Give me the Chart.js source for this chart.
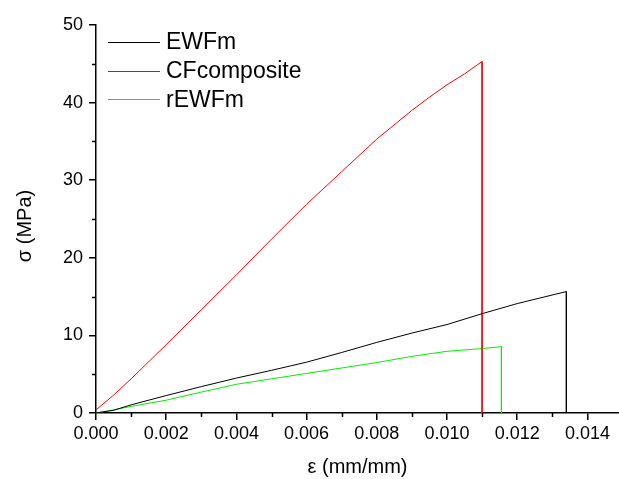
<!DOCTYPE html>
<html>
<head>
<meta charset="utf-8">
<script src="https://cdn.jsdelivr.net/npm/chart.js@4"></script>
<style>
  html, body { margin: 0; padding: 0; background: #fff; }
  #wrap { width: 619px; height: 479px; }
</style>
</head>
<body>
<div id="wrap"><canvas id="stressChart" width="619" height="479"></canvas></div>
<script>
// --- data ---
const ewfmStrain = [0, 0.0005, 0.001, 0.002, 0.003, 0.004, 0.005, 0.006, 0.007, 0.008, 0.009, 0.010, 0.011, 0.012, 0.0134, 0.0134];
const ewfmStress = [0, 0.35, 1.05, 2.25, 3.4, 4.5, 5.5, 6.55, 7.8, 9.1, 10.3, 11.4, 12.8, 14.1, 15.65, 0];

const cfStrain = [0, 0.0005, 0.001, 0.002, 0.003, 0.004, 0.005, 0.006, 0.007, 0.008, 0.009, 0.0095, 0.010, 0.0105, 0.011, 0.011];
const cfStress = [0.4, 2.3, 4.4, 8.8, 13.3, 17.8, 22.4, 26.9, 31.1, 35.3, 39.0, 40.7, 42.3, 43.7, 45.3, 0];

const rewfmStrain = [0, 0.0005, 0.001, 0.002, 0.003, 0.004, 0.005, 0.006, 0.007, 0.008, 0.009, 0.010, 0.011, 0.01155, 0.01155];
const rewfmStress = [0, 0.4, 0.85, 1.65, 2.7, 3.7, 4.4, 5.1, 5.8, 6.5, 7.3, 7.95, 8.3, 8.55, 0];

const seriesNames = ['EWFm', 'CFcomposite', 'rEWFm'];
const xTicks = [0, 0.002, 0.004, 0.006, 0.008, 0.010, 0.012, 0.014];
const xMinor = [0.001, 0.003, 0.005, 0.007, 0.009, 0.011, 0.013];
const yTicks = [0, 10, 20, 30, 40, 50];
const yMinor = [5, 15, 25, 35, 45];

const FONT = '"Liberation Sans", Arial, sans-serif';

function pts(xs, ys) {
    return xs.map((x, i) => ({ x: x, y: ys[i] }));
}

// minor ticks, y title and the legend, drawn by hand
const extras = {
    id: 'extras',
    afterDraw(chart) {
        const c = chart.ctx;
        const xs = chart.scales.x, ys = chart.scales.y;
        const area = chart.chartArea;
        c.save();
        c.strokeStyle = '#000';
        c.lineWidth = 1.5;
        c.beginPath();
        xMinor.forEach(v => {
            const px = Math.round(xs.getPixelForValue(v)) + 0.5;
            c.moveTo(px, area.bottom);
            c.lineTo(px, area.bottom + 4);
        });
        yMinor.forEach(v => {
            const py = Math.round(ys.getPixelForValue(v)) + 0.5;
            c.moveTo(area.left, py);
            c.lineTo(area.left - 4, py);
        });
        c.stroke();

        // y axis title
        c.save();
        c.translate(25, 226);
        c.rotate(-Math.PI / 2);
        c.font = '20px ' + FONT;
        c.textAlign = 'center';
        c.textBaseline = 'middle';
        c.fillStyle = '#000';
        c.fillText('σ (MPa)', 0, 0);
        c.restore();

        // legend
        c.font = '23px ' + FONT;
        c.textBaseline = 'middle';
        c.fillStyle = '#000';
        chart.data.datasets.forEach((ds, i) => {
            const y = 42 + i * 28.6;
            c.strokeStyle = ds.borderColor;
            c.lineWidth = 1;
            c.beginPath();
            c.moveTo(108, Math.round(y) + 0.5);
            c.lineTo(160, Math.round(y) + 0.5);
            c.stroke();
            c.fillText(ds.label, 166, y + 1);
        });
        c.restore();
    }
};

const chart = new Chart(document.getElementById('stressChart'), {
    type: 'scatter',
    data: {
        datasets: [
            { label: seriesNames[0], data: pts(ewfmStrain, ewfmStress), borderColor: '#000000' },
            { label: seriesNames[1], data: pts(cfStrain, cfStress), borderColor: '#ff0000' },
            { label: seriesNames[2], data: pts(rewfmStrain, rewfmStress), borderColor: '#00ee00' }
        ]
    },
    options: {
        responsive: false,
        animation: false,
        showLine: true,
        elements: {
            point: { radius: 0, hoverRadius: 0 },
            line: { borderWidth: 1, tension: 0 }
        },
        layout: { padding: { top: 25, right: 0, left: 0, bottom: 0 } },
        scales: {
            x: {
                type: 'linear',
                min: 0,
                max: 0.0149,
                afterBuildTicks: s => { s.ticks = xTicks.map(v => ({ value: v })); },
                afterFit: s => { s.height = 66; },
                ticks: {
                    color: '#000',
                    font: { family: FONT, size: 18 },
                    padding: 3,
                    maxRotation: 0,
                    callback: v => v.toFixed(3)
                },
                grid: { drawOnChartArea: false, drawTicks: true, tickLength: 7, color: '#000', lineWidth: 1.5 },
                border: { color: '#000', width: 1.5 },
                title: {
                    display: true,
                    text: 'ε (mm/mm)',
                    color: '#000',
                    font: { family: FONT, size: 20 },
                    padding: { top: 10, bottom: 0 }
                }
            },
            y: {
                type: 'linear',
                min: 0,
                max: 50,
                afterBuildTicks: s => { s.ticks = yTicks.map(v => ({ value: v })); },
                afterFit: s => { s.width = 96; },
                ticks: {
                    color: '#000',
                    font: { family: FONT, size: 18 },
                    padding: 6
                },
                grid: { drawOnChartArea: false, drawTicks: true, tickLength: 7, color: '#000', lineWidth: 1.5 },
                border: { color: '#000', width: 1.5 }
            }
        },
        plugins: {
            legend: { display: false },
            tooltip: { enabled: false }
        }
    },
    plugins: [extras]
});
</script>
</body>
</html>
